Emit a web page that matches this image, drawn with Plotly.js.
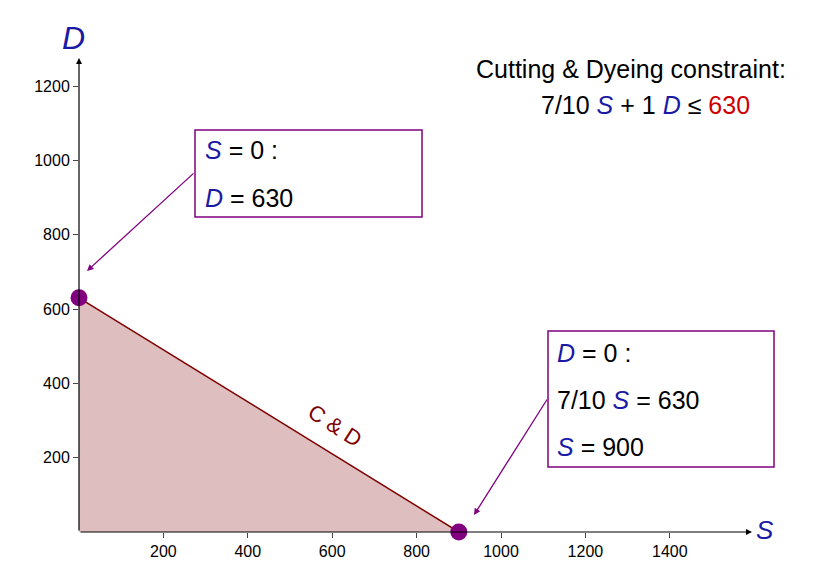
<!DOCTYPE html>
<html>
<head>
<script src="https://cdn.plot.ly/plotly-3.0.1.min.js"></script>
</head>
<body style="margin:0">
<div id="chart" style="width:824px;height:586px"></div>
<script>
// corner points of the Cutting & Dyeing constraint
const cornerS = [0, 900];
const cornerD = [630, 0];
const xTicks = [200, 400, 600, 800, 1000, 1200, 1400];
const yTicks = [200, 400, 600, 800, 1000, 1200];

const L = 79, R = 750, T = 60, B = 532;
// pixel -> paper helpers
const px = (x) => (x - L) / (R - L);
const py = (y) => (B - y) / (B - T);

const blue = '#1a1aa6';
const purple = '#800080';
const dark = '#800000';
const it = (s) => `<i><span style="color:${blue}">${s}</span></i>`;

const traces = [
  {
    x: [cornerS[0], cornerS[1], 0, cornerS[0]],
    y: [cornerD[0], cornerD[1], 0, cornerD[0]],
    type: 'scatter', mode: 'lines', fill: 'toself',
    fillcolor: 'rgba(222,190,190,1)', line: { width: 0 }, hoverinfo: 'skip',
  },
  {
    x: cornerS, y: cornerD, type: 'scatter', mode: 'lines',
    line: { color: dark, width: 1.5 },
  },
  {
    x: cornerS, y: cornerD, type: 'scatter', mode: 'markers',
    marker: { color: purple, size: 17 }, cliponaxis: false,
  },
];

const txt = (x, y, text, size, extra) => Object.assign({
  xref: 'paper', yref: 'paper', x: px(x), y: py(y), text: text,
  showarrow: false, xanchor: 'left', yanchor: 'middle',
  font: { family: 'Liberation Sans, Arial', size: size, color: '#000' },
}, extra || {});

const arrow = (x0, y0, x1, y1, color, w) => ({
  xref: 'paper', yref: 'paper', axref: 'paper', ayref: 'paper',
  x: px(x1), y: py(y1), ax: px(x0), ay: py(y0), text: '',
  showarrow: true, arrowhead: 2, arrowsize: 1, arrowwidth: w, arrowcolor: color,
});

const annotations = [
  arrow(79, 532, 79, 58, '#000', 1.2),
  arrow(79, 532, 752, 532, '#000', 1.2),
  txt(60, 38, it('D'), 32),
  txt(754, 530, it('S'), 26),
  txt(474, 69, 'Cutting &amp; Dyeing constraint:', 25),
  txt(539, 105, `7/10 ${it('S')} + 1 ${it('D')} ≤ <span style="color:#cc0000">630</span>`, 25),
  txt(203, 150, `${it('S')} = 0 :`, 25),
  txt(203, 198, `${it('D')} = 630`, 25),
  txt(555, 353, `${it('D')} = 0 :`, 25),
  txt(555, 400, `7/10 ${it('S')} = 630`, 25),
  txt(555, 447, `${it('S')} = 900`, 25),
  txt(335, 425, 'C &amp; D', 22, { xanchor: 'center', textangle: 32.6, font: { family: 'Liberation Sans, Arial', size: 22, color: dark } }),
  arrow(195, 172, 87, 271, purple, 1.3),
  arrow(548, 398, 474, 515, purple, 1.3),
];

const box = (x0, y0, x1, y1) => ({
  type: 'rect', xref: 'paper', yref: 'paper',
  x0: px(x0), x1: px(x1), y0: py(y0), y1: py(y1),
  line: { color: purple, width: 1.5 }, fillcolor: 'white',
});

const layout = {
  width: 824, height: 586,
  margin: { l: L, r: 824 - R, t: T, b: 586 - B },
  paper_bgcolor: 'white', plot_bgcolor: 'white',
  showlegend: false,
  font: { family: 'Liberation Sans, Arial', size: 16, color: '#000' },
  xaxis: {
    range: [0, 1590], tickvals: xTicks, ticks: 'outside', ticklen: 5,
    showgrid: false, zeroline: false, showline: false,
    tickfont: { size: 16 },
  },
  yaxis: {
    range: [0, 1270], tickvals: yTicks, ticks: 'outside', ticklen: 5,
    showgrid: false, zeroline: false, showline: false,
    tickfont: { size: 16 },
  },
  shapes: [box(195, 130, 422, 217), box(548, 331, 774, 467)],
  annotations: annotations,
};

Plotly.newPlot('chart', traces, layout, { displayModeBar: false });
</script>
</body>
</html>
